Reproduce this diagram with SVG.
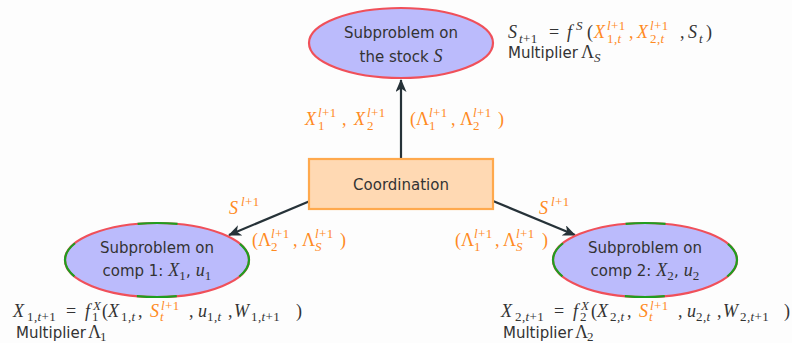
<svg xmlns="http://www.w3.org/2000/svg" width="792" height="343" viewBox="0 0 792 343">
<defs>
<style>
.t{font-family:"DejaVu Sans",sans-serif;font-size:15px;fill:#333}
.m{font-family:"Liberation Serif",serif;font-size:18px;fill:#333}
.mi{font-family:"Liberation Serif",serif;font-style:italic;font-size:18px}
.i{font-style:italic}
.s{font-size:13px;letter-spacing:0.4px}
.o{fill:#ff8a1f}
.node{fill:#bbbbfc;stroke:#f0505a;stroke-width:2.2}
.gd{fill:none;stroke:#1f9e1f;stroke-width:2.2;stroke-dasharray:40 66;stroke-dashoffset:20}
.box{fill:#ffd9b3;stroke:#ffa94d;stroke-width:2.2}
.edge{stroke:#263238;stroke-width:2.2;fill:none}
</style>
<marker id="ah" markerWidth="13" markerHeight="11" refX="12" refY="5.5" orient="auto" markerUnits="userSpaceOnUse">
<path d="M0,0 L13,5.5 L0,11 L3.5,5.5 z" fill="#263238"/>
</marker>
</defs>
<rect width="792" height="343" fill="#fdfdfd"/>

<g id="connectors">
<line class="edge" x1="401" y1="159" x2="401" y2="80" marker-end="url(#ah)"/>
<line class="edge" x1="310" y1="201" x2="229" y2="235" marker-end="url(#ah)"/>
<line class="edge" x1="493" y1="201" x2="575" y2="235" marker-end="url(#ah)"/>
</g>

<g id="stock">
<ellipse class="node" cx="401" cy="43" rx="92" ry="35"/>
<text class="t" x="401" y="38" text-anchor="middle">Subproblem on</text>
<text class="t" x="401" y="62" text-anchor="middle">the stock <tspan class="mi">S</tspan></text>
</g>

<g id="coordination">
<rect class="box" x="309" y="159" width="184" height="50"/>
<text class="t" x="401" y="190" text-anchor="middle">Coordination</text>
</g>

<g id="comp1">
<ellipse class="node" cx="157" cy="260" rx="92" ry="37"/>
<ellipse class="gd" cx="157" cy="260" rx="92" ry="37"/>
<text class="t" x="157" y="253" text-anchor="middle">Subproblem on</text>
<text class="t" x="157" y="276" text-anchor="middle">comp 1: <tspan class="mi">X</tspan><tspan class="m s" dy="4">1</tspan><tspan dy="-4">, </tspan><tspan class="mi">u</tspan><tspan class="m s" dy="4">1</tspan></text>
</g>

<g id="comp2">
<ellipse class="node" cx="645" cy="260" rx="92" ry="37"/>
<ellipse class="gd" cx="645" cy="260" rx="92" ry="37"/>
<text class="t" x="645" y="253" text-anchor="middle">Subproblem on</text>
<text class="t" x="645" y="276" text-anchor="middle">comp 2: <tspan class="mi">X</tspan><tspan class="m s" dy="4">2</tspan><tspan dy="-4">, </tspan><tspan class="mi">u</tspan><tspan class="m s" dy="4">2</tspan></text>
</g>

<g id="labels">
<!-- top right formula -->
<text class="m">
<tspan x="508" y="38" class="i">S</tspan>
<tspan x="519" y="43" class="s"><tspan class="i">t</tspan>+1</tspan>
<tspan x="549" y="38">=</tspan>
<tspan x="567" class="i">f</tspan>
<tspan x="576" y="30" class="s i">S</tspan>
<tspan x="587" y="38">(</tspan>
<tspan x="594" class="i o">X</tspan>
<tspan x="607" y="30" class="s o"><tspan class="i">l</tspan>+1</tspan>
<tspan x="607" y="43" class="s o">1,<tspan class="i">t</tspan></tspan>
<tspan x="629" y="38" class="o">,</tspan>
<tspan x="637" class="i o">X</tspan>
<tspan x="650" y="30" class="s o"><tspan class="i">l</tspan>+1</tspan>
<tspan x="650" y="43" class="s o">2,<tspan class="i">t</tspan></tspan>
<tspan x="680" y="38">,</tspan>
<tspan x="688" class="i">S</tspan>
<tspan x="699" y="43" class="s i">t</tspan>
<tspan x="706" y="38">)</tspan>
</text>
<text class="t" x="508" y="58">Multiplier</text>
<text class="m"><tspan x="581" y="58">Λ</tspan><tspan x="594" y="62" class="s i">S</tspan></text>

<!-- up arrow labels -->
<text class="m o">
<tspan x="305" y="125" class="i">X</tspan>
<tspan x="318" y="117" class="s"><tspan class="i">l</tspan>+1</tspan>
<tspan x="318" y="130" class="s">1</tspan>
<tspan x="342" y="125">,</tspan>
<tspan x="354" class="i">X</tspan>
<tspan x="367" y="117" class="s"><tspan class="i">l</tspan>+1</tspan>
<tspan x="367" y="130" class="s">2</tspan>
</text>
<text class="m o">
<tspan x="410" y="125">(</tspan>
<tspan x="416">Λ</tspan>
<tspan x="429" y="117" class="s"><tspan class="i">l</tspan>+1</tspan>
<tspan x="429" y="130" class="s">1</tspan>
<tspan x="451" y="125">,</tspan>
<tspan x="460">Λ</tspan>
<tspan x="473" y="117" class="s"><tspan class="i">l</tspan>+1</tspan>
<tspan x="473" y="130" class="s">2</tspan>
<tspan x="498" y="125">)</tspan>
</text>

<!-- side arrow labels -->
<text class="m o"><tspan x="229" y="214" class="i">S</tspan><tspan x="241" y="206" class="s"><tspan class="i">l</tspan>+1</tspan></text>
<text class="m o"><tspan x="539" y="214" class="i">S</tspan><tspan x="551" y="206" class="s"><tspan class="i">l</tspan>+1</tspan></text>

<text class="m o">
<tspan x="252" y="246">(</tspan>
<tspan x="258">Λ</tspan>
<tspan x="271" y="238" class="s"><tspan class="i">l</tspan>+1</tspan>
<tspan x="271" y="251" class="s">2</tspan>
<tspan x="293" y="246">,</tspan>
<tspan x="302">Λ</tspan>
<tspan x="315" y="238" class="s"><tspan class="i">l</tspan>+1</tspan>
<tspan x="315" y="251" class="s i">S</tspan>
<tspan x="340" y="246">)</tspan>
</text>
<text class="m o">
<tspan x="455" y="246">(</tspan>
<tspan x="461">Λ</tspan>
<tspan x="474" y="238" class="s"><tspan class="i">l</tspan>+1</tspan>
<tspan x="474" y="251" class="s">1</tspan>
<tspan x="495" y="246">,</tspan>
<tspan x="503">Λ</tspan>
<tspan x="516" y="238" class="s"><tspan class="i">l</tspan>+1</tspan>
<tspan x="516" y="251" class="s i">S</tspan>
<tspan x="542" y="246">)</tspan>
</text>

<!-- bottom left formula -->
<text class="m">
<tspan x="13" y="317" class="i">X</tspan>
<tspan x="27" y="321" class="s">1,<tspan class="i">t</tspan>+1</tspan>
<tspan x="66" y="317">=</tspan>
<tspan x="85" class="i">f</tspan>
<tspan x="93" y="310" class="s i">X</tspan>
<tspan x="92" y="321" class="s">1</tspan>
<tspan x="102" y="317">(</tspan>
<tspan x="108" class="i">X</tspan>
<tspan x="121" y="321" class="s">1,<tspan class="i">t</tspan></tspan>
<tspan x="138" y="317">,</tspan>
<tspan x="150" class="i o">S</tspan>
<tspan x="161" y="310" class="s o"><tspan class="i">l</tspan>+1</tspan>
<tspan x="160" y="321" class="s i o">t</tspan>
<tspan x="189" y="317">,</tspan>
<tspan x="198" class="i">u</tspan>
<tspan x="207" y="321" class="s">1,<tspan class="i">t</tspan></tspan>
<tspan x="228" y="317">,</tspan>
<tspan x="234" class="i">W</tspan>
<tspan x="251" y="321" class="s">1,<tspan class="i">t</tspan>+1</tspan>
<tspan x="296" y="317">)</tspan>
</text>
<text class="t" x="16" y="338">Multiplier</text>
<text class="m"><tspan x="88" y="338">Λ</tspan><tspan x="100" y="341" class="s">1</tspan></text>

<!-- bottom right formula -->
<text class="m">
<tspan x="501" y="317" class="i">X</tspan>
<tspan x="515" y="321" class="s">2,<tspan class="i">t</tspan>+1</tspan>
<tspan x="554" y="317">=</tspan>
<tspan x="573" class="i">f</tspan>
<tspan x="581" y="310" class="s i">X</tspan>
<tspan x="580" y="321" class="s">2</tspan>
<tspan x="591" y="317">(</tspan>
<tspan x="597" class="i">X</tspan>
<tspan x="610" y="321" class="s">2,<tspan class="i">t</tspan></tspan>
<tspan x="627" y="317">,</tspan>
<tspan x="639" class="i o">S</tspan>
<tspan x="650" y="310" class="s o"><tspan class="i">l</tspan>+1</tspan>
<tspan x="649" y="321" class="s i o">t</tspan>
<tspan x="678" y="317">,</tspan>
<tspan x="687" class="i">u</tspan>
<tspan x="696" y="321" class="s">2,<tspan class="i">t</tspan></tspan>
<tspan x="717" y="317">,</tspan>
<tspan x="723" class="i">W</tspan>
<tspan x="740" y="321" class="s">2,<tspan class="i">t</tspan>+1</tspan>
<tspan x="784" y="317">)</tspan>
</text>
<text class="t" x="503" y="338">Multiplier</text>
<text class="m"><tspan x="575" y="338">Λ</tspan><tspan x="587" y="341" class="s">2</tspan></text>
</g>
</svg>
